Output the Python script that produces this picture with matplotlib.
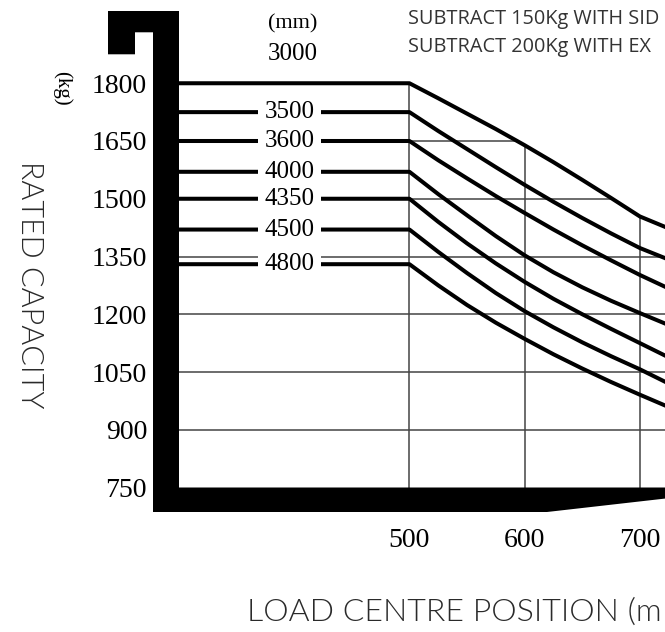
import numpy as np
import matplotlib
matplotlib.use("Agg")
import matplotlib.pyplot as plt
from matplotlib.patches import Polygon
from matplotlib.transforms import Affine2D

# load centre positions (mm) and rated capacity (kg) per lift height (mm)
load_centre = [300, 500, 525, 550, 575, 600, 625, 650, 675, 700, 725]
heights = ["3000", "3500", "3600", "4000", "4350", "4500", "4800"]
cap_3000 = [1800, 1800, 1761, 1721, 1681, 1639, 1595, 1549, 1502, 1454, 1423]
cap_3500 = [1725, 1725, 1676, 1629, 1582, 1536, 1492, 1450, 1410, 1372, 1342]
cap_3600 = [1650, 1650, 1600, 1553, 1507, 1463, 1420, 1379, 1340, 1302, 1267]
cap_4000 = [1570, 1570, 1512, 1457, 1403, 1353, 1309, 1270, 1235, 1203, 1172]
cap_4350 = [1500, 1500, 1440, 1384, 1332, 1284, 1240, 1200, 1162, 1125, 1088]
cap_4500 = [1420, 1420, 1362, 1307, 1255, 1208, 1166, 1127, 1091, 1057, 1020]
cap_4800 = [1330, 1330, 1275, 1224, 1178, 1136, 1096, 1059, 1024, 991, 959]
capacities = [cap_3000, cap_3500, cap_3600, cap_4000, cap_4350, cap_4500, cap_4800]

y_ticks = [750, 900, 1050, 1200, 1350, 1500, 1650, 1800]
x_ticks = [500, 600, 700]
notes = ["SUBTRACT 150Kg WITH SID", "SUBTRACT 200Kg WITH EX"]
x_title = "LOAD CENTRE POSITION (m"

W, H = 665, 632
fig = plt.figure(figsize=(W / 100, H / 100), dpi=100)
# pixel coords from the top-left corner, for the fork frame and loose text
px = Affine2D().scale(1 / W, -1 / H).translate(0, 1) + fig.transFigure

ax = fig.add_axes([179 / W, (H - 487.5) / H, (W - 179) / W, 487.5 / H])
ax.set_xlim(300, 721.8)
ax.set_ylim(750, 750 + 487.5 / 0.385)
for s in ax.spines.values():
    s.set_visible(False)

serif = "Liberation Serif"
ax.set_yticks(y_ticks)
ax.set_yticklabels([str(v) for v in y_ticks], family=serif, fontsize=20)
ax.set_xticks(x_ticks)
ax.set_xticklabels([str(v) for v in x_ticks], family=serif, fontsize=20)
ax.tick_params(axis="y", length=0, pad=23)
ax.tick_params(axis="x", length=0, pad=29)

# grid only below the 3000 mm envelope
env_x = np.array(load_centre, float)
env_y = np.array(cap_3000, float)
for yv in y_ticks[1:-1]:
    x_end = np.interp(-yv, -env_y, env_x)
    ax.plot([300, x_end], [yv, yv], color="#444444", lw=1.1, zorder=1)
for xv in x_ticks:
    ax.plot([xv, xv], [750, np.interp(xv, env_x, env_y)], color="#444444", lw=1.1, zorder=1)

for name, cap in zip(heights, capacities):
    ax.plot(load_centre, cap, color="black", lw=2.9, solid_capstyle="butt",
            solid_joinstyle="round", zorder=3)
    if name != "3000":
        ax.text(396, cap[0], name, family=serif, fontsize=18, ha="center", va="center",
                zorder=4, bbox=dict(boxstyle="square,pad=0.25", fc="white", ec="none"))

ax.text(399, 1955, "(mm)", family=serif, fontsize=16, ha="center", va="center")
ax.text(399, 1875, "3000", family=serif, fontsize=18, ha="center", va="center")

# fork frame
fork = [(108, 11), (179, 11), (179, 487.5), (670, 487.5), (670, 498), (547, 512),
        (153, 512), (153, 32.3), (135, 32.3), (135, 54.3), (108, 54.3)]
fig.patches.append(Polygon(fork, closed=True, fc="black", ec="none", transform=px))

fig.text(62, 88, "(kg)", transform=px, family=serif, fontsize=15, rotation=-90,
         ha="center", va="center")
fig.text(29, 285, "RATED CAPACITY", transform=px, family="Lato", weight=300,
         fontsize=22, rotation=-90, ha="center", va="center", color="#2a2a2a")
fig.text(247, 612, x_title, transform=px, family="Lato",
         weight=300, fontsize=23, ha="left", va="center", color="#2a2a2a")
fig.text(408, 19, notes[0], transform=px, family="Open Sans", fontsize=14.3,
         ha="left", va="center", color="#333333")
fig.text(408, 47, notes[1], transform=px, family="Open Sans", fontsize=14.3,
         ha="left", va="center", color="#333333")

fig.savefig("out.png", dpi=100)
